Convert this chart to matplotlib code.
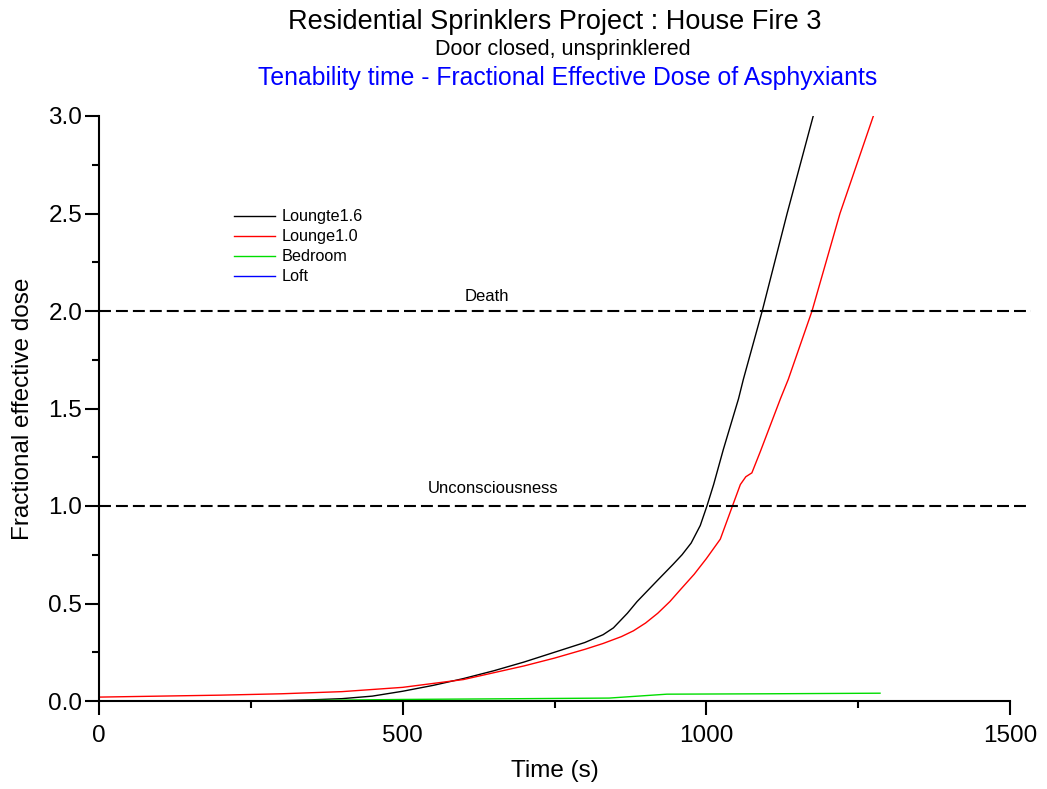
import matplotlib
matplotlib.use("Agg")
import matplotlib.pyplot as plt
import numpy as np

plt.rcParams['font.family'] = ['Liberation Sans', 'DejaVu Sans']
plt.rcParams['lines.scale_dashes'] = False

# Data
lounge16_t = [0, 250, 300, 350, 400, 450, 500, 550, 600, 650, 700, 750, 800, 830, 847, 870, 886,
              920, 945, 960, 975, 990, 1001, 1012, 1028, 1053, 1061, 1092, 1133, 1176]
lounge16_y = [0.0, 0.0, 0.002, 0.006, 0.012, 0.025, 0.05, 0.08, 0.115, 0.155, 0.2, 0.25,
              0.3, 0.34, 0.375, 0.45, 0.51, 0.62, 0.7, 0.75, 0.81, 0.9, 1.0, 1.11, 1.29, 1.55, 1.65,
              2.0, 2.5, 3.0]

lounge10_t = [0, 100, 200, 300, 400, 500, 600, 700, 750, 800, 830, 860, 880, 900, 920, 940, 957, 980,
              1000, 1023, 1043, 1056, 1065, 1075, 1089, 1122, 1135, 1174, 1220, 1275]
lounge10_y = [0.02, 0.025, 0.03, 0.037, 0.048, 0.07, 0.11, 0.18, 0.22, 0.265, 0.295, 0.33, 0.36,
              0.4, 0.45, 0.51, 0.57, 0.65, 0.73, 0.83, 1.0, 1.11, 1.15, 1.17, 1.28, 1.55, 1.65,
              2.0, 2.5, 3.0]

bedroom_t = [0, 300, 350, 500, 700, 840, 935, 1100, 1286]
bedroom_y = [0.0, 0.0, 0.003, 0.008, 0.012, 0.015, 0.035, 0.037, 0.04]

loft_t = []
loft_y = []

series_names = ['Loungte1.6', 'Lounge1.0', 'Bedroom', 'Loft']
series_colors = ['black', 'red', '#00dd00', 'blue']

death_level = 2.0
uncon_level = 1.0

fig = plt.figure(figsize=(10.47, 7.89), dpi=100)
ax = fig.add_axes([99/1047, 88/789, 911/1047, 585/789])

ax.plot(lounge16_t, lounge16_y, color=series_colors[0], lw=1.0, label=series_names[0])
ax.plot(lounge10_t, lounge10_y, color=series_colors[1], lw=1.0, label=series_names[1])
ax.plot(bedroom_t, bedroom_y, color=series_colors[2], lw=1.0, label=series_names[2])
ax.plot(loft_t, loft_y, color=series_colors[3], lw=1.0, label=series_names[3])

ax.plot([0, 1534], [death_level, death_level], color='black', lw=1.5, dashes=(8.6, 3.6), clip_on=False)
ax.plot([0, 1528], [uncon_level, uncon_level], color='black', lw=1.5, dashes=(8.6, 3.6), clip_on=False)

ax.text(639, death_level + 0.035, 'Death', ha='center', va='bottom', fontsize=12)
ax.text(649, uncon_level + 0.05, 'Unconsciousness', ha='center', va='bottom', fontsize=12)

ax.set_xlim(0, 1500)
ax.set_ylim(0, 3.0)
ax.set_xticks([0, 500, 1000, 1500])
ax.set_xticks([250, 750, 1250], minor=True)
ax.set_yticks(np.arange(0, 3.01, 0.5))
ax.set_yticks(np.arange(0.25, 3.0, 0.5), minor=True)
ax.set_yticklabels(['0.0', '0.5', '1.0', '1.5', '2.0', '2.5', '3.0'])

for s in ('top', 'right'):
    ax.spines[s].set_visible(False)
for s in ('left', 'bottom'):
    ax.spines[s].set_linewidth(1.5)

ax.tick_params(which='major', direction='out', length=10, width=1.5, labelsize=17.5)
ax.tick_params(which='minor', direction='out', length=5, width=1.5)
ax.tick_params(axis='x', which='major', pad=7)
ax.tick_params(axis='y', which='major', pad=2)

ax.set_xlabel('Time (s)', fontsize=17.5, labelpad=10)
ax.set_ylabel('Fractional effective dose', fontsize=17.5, labelpad=10)

leg = ax.legend(loc='upper left', bbox_to_anchor=(0.1394, 0.8545), frameon=False, fontsize=11.7,
                handlelength=2.52, handletextpad=0.43, labelspacing=0.31, borderpad=0)

fig.text(555/1047, 1 - 22/789, 'Residential Sprinklers Project : House Fire 3',
         ha='center', va='center', fontsize=19.5)
fig.text(563/1047, 1 - 49/789, 'Door closed, unsprinklered', ha='center', va='center', fontsize=15.5)
fig.text(568/1047, 1 - 78/789, 'Tenability time - Fractional Effective Dose of Asphyxiants',
         ha='center', va='center', fontsize=17.8, color='blue')

fig.savefig('out.png', dpi=100)
